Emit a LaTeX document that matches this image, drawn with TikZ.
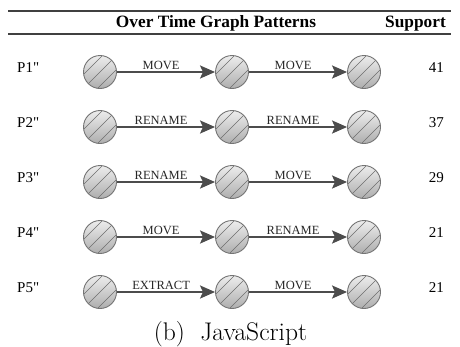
\documentclass[tikz,border=0pt]{standalone}
\usepackage{fontspec}
\setmainfont{Liberation Serif}[Ligatures=TeXOff]
\newfontfamily\capfont{Latin Modern Roman}
\usetikzlibrary{arrows.meta}

\definecolor{edgegray}{HTML}{4C4C4C}
\definecolor{ringgray}{HTML}{747474}
\definecolor{hatchgray}{HTML}{6E6E6E}

\tikzset{
  state/.style={circle, minimum size=33pt, inner sep=0pt, draw=ringgray, line width=0.9pt,
    top color=black!7, bottom color=black!32, shading angle=0,
    path picture={
      \foreach \d in {-7,0,7}
        \draw[hatchgray, line width=0.6pt]
          ([shift={(\d pt-22pt,-\d pt-22pt)}]path picture bounding box.center)
          -- ++(44pt,44pt);
    }},
  trans/.style={draw=edgegray, line width=2.3pt,
    -{Stealth[length=15pt, width=13pt, inset=3pt]}},
  lbl/.style={font=\fontsize{12.5}{14}\selectfont, anchor=base, inner sep=0pt, text=black!85},
  rowlbl/.style={font=\fontsize{15}{17}\selectfont, anchor=base west, inner sep=0pt},
  supp/.style={font=\fontsize{15}{17}\selectfont, anchor=base east, inner sep=0pt},
  head/.style={font=\fontsize{17.3}{20}\selectfont\bfseries, anchor=base, inner sep=0pt},
  rule/.style={draw=black!75, line width=1.4pt}
}

\begin{document}
\begin{tikzpicture}[x=1pt, y=-1pt]
  \useasboundingbox (0,0) rectangle (460,346);

  % table rules
  \coordinate (r1a) at (8,11);  \coordinate (r1b) at (451,11);
  \coordinate (r2a) at (8,34);  \coordinate (r2b) at (451,34);
  \draw[rule] (r1a) -- (r1b);
  \draw[rule] (r2a) -- (r2b);

  % header
  \node[head] (hpat) at (216,27) {Over Time Graph Patterns};
  \node[head, anchor=base east] (hsup) at (446,27) {Support};

  % pattern rows: name / y / first edge / second edge / support
  \foreach \r/\y/\ea/\eb/\s in {1/72/MOVE/MOVE/41,
                                2/127/RENAME/RENAME/37,
                                3/182/RENAME/MOVE/29,
                                4/237/MOVE/RENAME/21,
                                5/292/EXTRACT/MOVE/21} {
    \node[rowlbl] (p\r) at (17,\y+0.5) {P\r"};
    \node[state] (a\r) at (100,\y) {};
    \node[state] (b\r) at (232,\y) {};
    \node[state] (c\r) at (364,\y) {};
    \draw[trans] (a\r) -- node[lbl, pos=0.45, yshift=3pt] (ea\r) {\ea} (b\r);
    \draw[trans] (b\r) -- node[lbl, pos=0.45, yshift=3pt] (eb\r) {\eb} (c\r);
    \node[supp] (s\r) at (444,\y+0.5) {\s};
  }

  % caption
  \node[font=\capfont\fontsize{25.5}{29}\selectfont, anchor=base, inner sep=0pt] (cap)
    at (230.5,340) {(b)\ \ JavaScript};
\end{tikzpicture}
\end{document}
